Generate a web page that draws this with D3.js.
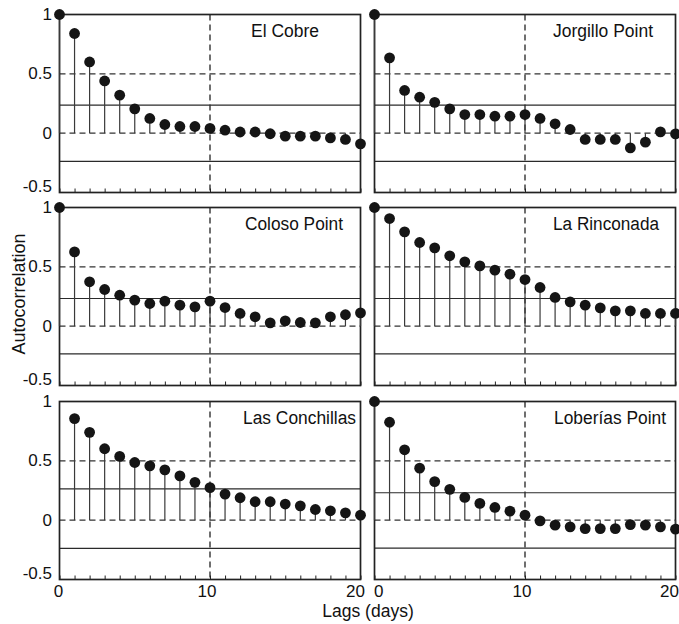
<!DOCTYPE html>
<html>
<head>
<meta charset="utf-8">
<script src="https://cdn.jsdelivr.net/npm/d3@7"></script>
<style>
  html, body { margin: 0; padding: 0; background: #fff; }
  svg { display: block; }
  text { font-family: "Liberation Sans", Arial, sans-serif; fill: #111; }
</style>
</head>
<body>
<svg id="chart" width="679" height="624"></svg>
<script>
// ---------- data ----------
const sites = ["El Cobre", "Jorgillo Point", "Coloso Point", "La Rinconada", "Las Conchillas", "Loberías Point"];
const lagsAll = d3.range(0, 21);
const lagsFrom1 = d3.range(1, 21);

const elCobre = [1.0, 0.84, 0.60, 0.44, 0.32, 0.205, 0.124, 0.073, 0.056, 0.056, 0.04, 0.025, 0.01, 0.01, -0.005, -0.025, -0.025, -0.025, -0.04, -0.053, -0.09];
const jorgillo = [1.0, 0.635, 0.36, 0.303, 0.26, 0.205, 0.157, 0.157, 0.143, 0.143, 0.157, 0.124, 0.079, 0.031, -0.053, -0.053, -0.053, -0.124, -0.076, 0.011, -0.006];
const coloso = [1.0, 0.626, 0.374, 0.309, 0.261, 0.219, 0.191, 0.211, 0.177, 0.163, 0.211, 0.157, 0.107, 0.079, 0.028, 0.045, 0.031, 0.028, 0.079, 0.096, 0.112];
const rinconada = [1.0, 0.907, 0.795, 0.705, 0.66, 0.593, 0.542, 0.508, 0.472, 0.438, 0.393, 0.326, 0.242, 0.205, 0.177, 0.154, 0.129, 0.129, 0.107, 0.107, 0.107];
const conchillas = [0.856, 0.74, 0.602, 0.537, 0.486, 0.458, 0.424, 0.373, 0.319, 0.274, 0.22, 0.189, 0.155, 0.155, 0.136, 0.121, 0.09, 0.079, 0.062, 0.042];
const loberias = [1.0, 0.825, 0.593, 0.438, 0.325, 0.26, 0.192, 0.141, 0.107, 0.076, 0.042, -0.006, -0.042, -0.056, -0.071, -0.071, -0.071, -0.037, -0.042, -0.056, -0.076];

const seriesValues = [elCobre, jorgillo, coloso, rinconada, conchillas, loberias];
const seriesLags = [lagsAll, lagsAll, lagsAll, lagsAll, lagsFrom1, lagsAll];
const upperBound = [0.236, 0.236, 0.233, 0.233, 0.263, 0.231];
const lowerBound = [-0.238, -0.238, -0.234, -0.234, -0.237, -0.235];

const yTicks = [1, 0.5, 0, -0.5];
const yTickLabels = ["1", "0.5", "0", "-0.5"];
const xTicks = [0, 10, 20];
const dashedY = [0.5, 0];
const dashedLag = 10;
const xLabel = "Lags (days)";
const yLabel = "Autocorrelation";

// ---------- layout ----------
const svg = d3.select("#chart");
const colX = [[59.5, 360.5], [374.5, 675.5]];
const rowY = [[14.5, 192.5], [207.5, 385.5], [401.5, 579.5]];
const titleLeft = [251, 553, 245, 553, 243, 554];
const titleWidth = [68, 100, 98, 106, 113, 112];

sites.forEach((name, i) => {
  const col = i % 2, row = Math.floor(i / 2);
  const [x0, x1] = colX[col];
  const [y0, y1] = rowY[row];
  const xs = d3.scaleLinear().domain([0, 20]).range([x0, x1]);
  const ys = d3.scaleLinear().domain([-0.5, 1]).range([y1, y0]);
  const g = svg.append("g");

  // dashed reference lines
  dashedY.forEach(v => {
    g.append("line").attr("x1", x0).attr("x2", x1)
      .attr("y1", ys(v)).attr("y2", ys(v))
      .attr("stroke", "#333").attr("stroke-width", 1.2)
      .attr("stroke-dasharray", "6,4");
  });
  g.append("line").attr("x1", xs(dashedLag)).attr("x2", xs(dashedLag))
    .attr("y1", y0).attr("y2", y1)
    .attr("stroke", "#222").attr("stroke-width", 1.3)
    .attr("stroke-dasharray", "6,4");

  // confidence bounds
  [upperBound[i], lowerBound[i]].forEach(v => {
    g.append("line").attr("x1", x0).attr("x2", x1)
      .attr("y1", ys(v)).attr("y2", ys(v))
      .attr("stroke", "#2a2a2a").attr("stroke-width", 1.2);
  });

  // bottom ticks
  const xAxis = d3.axisBottom(xs).tickValues(lagsAll).tickSize(-4).tickFormat("");
  const ax = g.append("g").attr("transform", `translate(0,${y1})`).call(xAxis);
  ax.select(".domain").remove();
  ax.selectAll(".tick line").attr("stroke", "#222").attr("stroke-width", 1);

  // frame
  g.append("rect").attr("x", x0).attr("y", y0)
    .attr("width", x1 - x0).attr("height", y1 - y0)
    .attr("fill", "none").attr("stroke", "#222").attr("stroke-width", 1.7);

  // stems + points
  const data = seriesLags[i].map((l, k) => ({ lag: l, v: seriesValues[i][k] }));
  g.selectAll("line.stem").data(data).enter().append("line")
    .attr("class", "stem")
    .attr("x1", d => xs(d.lag)).attr("x2", d => xs(d.lag))
    .attr("y1", ys(0)).attr("y2", d => ys(d.v))
    .attr("stroke", "#3a3a3a").attr("stroke-width", 1.2);
  g.selectAll("circle.pt").data(data).enter().append("circle")
    .attr("class", "pt")
    .attr("cx", d => xs(d.lag)).attr("cy", d => ys(d.v))
    .attr("r", 5.4).attr("fill", "#151515");

  // title
  g.append("text").attr("x", titleLeft[i]).attr("y", y0 + 22)
    .attr("font-size", 18)
    .attr("textLength", titleWidth[i]).attr("lengthAdjust", "spacingAndGlyphs")
    .text(name);

  // y tick labels on left column
  if (col === 0) {
    yTicks.forEach((v, k) => {
      g.append("text").attr("x", 52).attr("y", Math.min(ys(v), y1 - 6))
        .attr("text-anchor", "end").attr("dominant-baseline", "central")
        .attr("font-size", 17).text(yTickLabels[k]);
    });
  }
  // x tick labels on bottom row
  if (row === 2) {
    xTicks.forEach(v => {
      const t = g.append("text").attr("y", y1 + 17.5).attr("font-size", 17).text(v);
      if (col === 1 && v === 20) {
        t.attr("x", 679).attr("text-anchor", "end");
      } else if (col === 0 && v === 20) {
        t.attr("x", 365).attr("text-anchor", "end");
      } else if (col === 1 && v === 0) {
        t.attr("x", 374).attr("text-anchor", "start");
      } else {
        t.attr("x", xs(v) - (v === 10 ? 3 : 0) - (v === 0 ? 1 : 0)).attr("text-anchor", "middle");
      }
    });
  }
});

svg.append("text").attr("x", 368).attr("y", 617)
  .attr("text-anchor", "middle").attr("font-size", 17.5).text(xLabel);
svg.append("text").attr("transform", "translate(25,294) rotate(-90)")
  .attr("text-anchor", "middle").attr("font-size", 18).text(yLabel);
</script>
</body>
</html>
